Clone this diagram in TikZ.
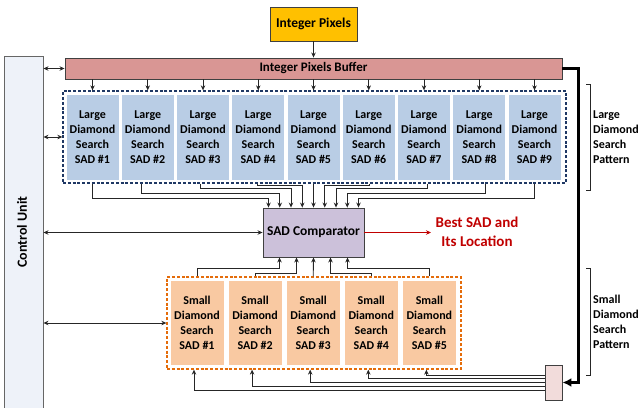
\documentclass[tikz,border=0pt]{standalone}
\usepackage{fontspec}
\setmainfont{Carlito}
\usetikzlibrary{arrows.meta}
\definecolor{ipfill}{HTML}{FFC000}
\definecolor{buffill}{HTML}{D99694}
\definecolor{largefill}{HTML}{B9CDE5}
\definecolor{largeedge}{HTML}{1F3864}
\definecolor{cmpfill}{HTML}{CCC1DA}
\definecolor{smallfill}{HTML}{F9C9A2}
\definecolor{smalledge}{HTML}{E46C0A}
\definecolor{muxfill}{HTML}{F2DCDB}
\definecolor{cufill}{HTML}{EEF2F9}
\definecolor{edgegray}{HTML}{404040}
\definecolor{bestred}{HTML}{C00000}
\begin{document}
\begin{tikzpicture}[x=1pt,y=-1pt,
  every node/.style={font=\bfseries},
  blockbox/.style={draw=edgegray,line width=0.9pt,rectangle,inner sep=0pt,align=center},
  cellbox/.style={draw=white,line width=1pt,rectangle,inner sep=0pt,align=center,
    font=\bfseries\fontsize{12}{15}\selectfont},
  groupbox/.style={line width=1.3pt,dash pattern=on 3pt off 1.8pt,rectangle,inner sep=0pt},
  arr/.style={draw=black!85,line width=0.9pt,-{Stealth[length=5pt,width=4.5pt]}},
  biarr/.style={draw=black!85,line width=0.9pt,{Stealth[length=5pt,width=4.5pt]}-{Stealth[length=5pt,width=4.5pt]}},
  bracket/.style={draw=black!85,line width=0.8pt},
  sidetext/.style={anchor=west,align=left,font=\bfseries\fontsize{12}{15}\selectfont,inner sep=0pt}
]
\useasboundingbox (0,0) rectangle (642,407);

% control unit column
\node[blockbox,draw=gray!80!black,fill=cufill,minimum width=39pt,minimum height=360pt] (cu) at (23.5,236) {};
\node[rotate=90,font=\bfseries\fontsize{14}{16}\selectfont] (cut) at (22,232) {Control Unit};

% input and buffer
\node[blockbox,fill=ipfill,minimum width=87pt,minimum height=34pt,font=\bfseries\fontsize{13.5}{16}\selectfont] (ip) at (313.5,24) {Integer Pixels};
\node[blockbox,fill=buffill,minimum width=497pt,minimum height=21pt,font=\bfseries\fontsize{13}{15}\selectfont] (buf) at (313.5,68.5) {Integer Pixels Buffer};

% large diamond search group
\node[groupbox,draw=largeedge,fill=white,minimum width=503pt,minimum height=92pt] (ld) at (314.5,137) {};
\foreach \i in {1,...,9}{
  \node[cellbox,fill=largefill,minimum width=53pt,minimum height=86pt] (L\i)
    at ({92.5+55.25*(\i-1)},137) {Large\\Diamond\\Search\\SAD \#\i};
}

% comparator
\node[blockbox,fill=cmpfill,minimum width=101pt,minimum height=49pt,font=\bfseries\fontsize{13.5}{16}\selectfont] (cmp) at (313.5,232.5) {SAD Comparator};

% small diamond search group
\node[groupbox,draw=smalledge,fill=white,minimum width=294pt,minimum height=92pt] (sd) at (314,323) {};
\foreach \i in {1,...,5}{
  \node[cellbox,fill=smallfill,minimum width=54pt,minimum height=85pt] (S\i)
    at ({197+58.1*(\i-1)},322.5) {Small\\Diamond\\Search\\SAD \#\i};
}

% selector feeding the small search units
\node[blockbox,fill=muxfill,minimum width=17pt,minimum height=35pt] (mux) at (553.5,382.5) {};

% result
\coordinate (best) at (431,232.5);
\draw[arr,draw=bestred] (cmp.east) -- (best);
\node[text=bestred,align=center,font=\bfseries\fontsize{15}{19}\selectfont] (bestt) at (477,232) {Best SAD and\\Its Location};

% pattern brackets
\draw[bracket] (586,84) -- (590,84) -- (590,190) -- (586,190);
\node[sidetext] (lpt) at (593,137) {Large\\Diamond\\Search\\Pattern};
\draw[bracket] (586,268) -- (590,268) -- (590,375) -- (586,375);
\node[sidetext] (spt) at (593,322) {Small\\Diamond\\Search\\Pattern};

% data paths
\draw[arr] (ip.south) -- (buf.north);
\foreach \i in {1,...,9}{
  \draw[arr] (L\i.north |- buf.south) -- (L\i.north |- ld.north);
}
\foreach \i/\dx/\ty/\ax in {1/0/198/-45, 2/-6/193/-33.75, 3/-3/188/-22.5, 4/-1/185/-11.25,
                            6/1/185/11.25, 7/3/188/22.5, 8/6/193/33.75, 9/0/198/45}{
  \draw[arr] ([xshift=\dx pt]L\i.south |- ld.south) -- ([xshift=\dx pt]L\i.south |- 0,\ty)
     -| ([xshift=\ax pt]cmp.north);
}
\draw[arr] (L5.south |- ld.south) -- (cmp.north);

\foreach \i/\ty/\ax in {1/268/-34, 2/273/-17, 4/273/17, 5/268/34}{
  \draw[arr] (S\i.north |- sd.north) -- (S\i.north |- 0,\ty) -| ([xshift=\ax pt]cmp.south);
}
\draw[arr] (S3.north |- sd.north) -- (cmp.south);

\foreach \i/\dy in {1/7.5, 2/3.75, 3/0, 4/-3.75, 5/-7.5}{
  \draw[arr] ([yshift=-\dy pt]mux.west) -| ([xshift=-3pt]S\i.south |- sd.south);
}

% thick feed from the buffer to the selector
\draw[line width=3pt,-{Latex[length=9pt,width=9pt]}] (buf.east) -- ++(16,0) |- (mux.east);

% control links
\draw[biarr] (cu.east |- buf.west) -- (buf.west);
\draw[biarr] (cu.east |- ld.west) -- (ld.west);
\draw[biarr] (cu.east |- cmp.west) -- (cmp.west);
\draw[biarr] (cu.east |- sd.west) -- (sd.west);
\end{tikzpicture}
\end{document}
